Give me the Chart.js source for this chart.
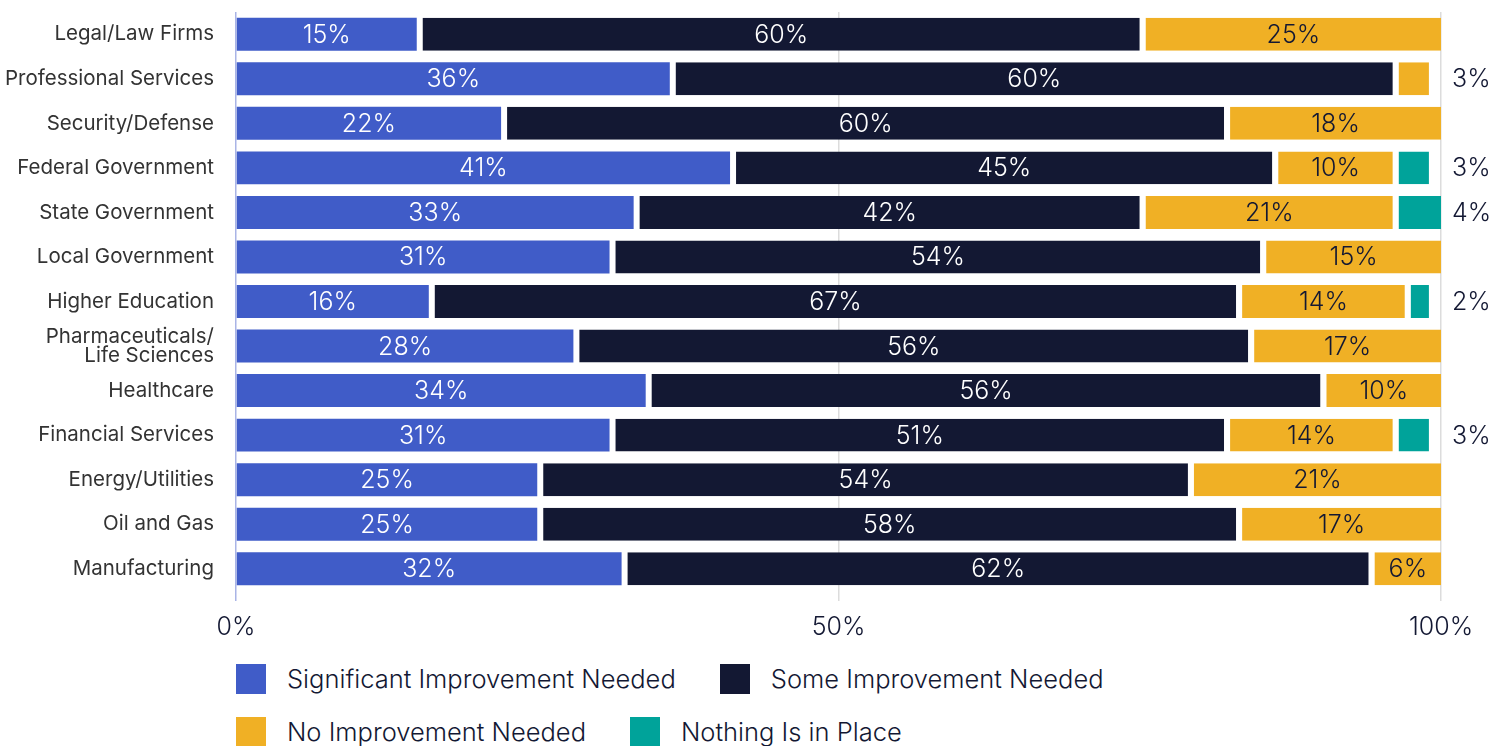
<!DOCTYPE html>
<html>
<head>
<meta charset="utf-8">
<script src="https://cdn.jsdelivr.net/npm/chart.js@4.4.1/dist/chart.umd.min.js"></script>
<style>
    html, body { margin: 0; padding: 0; background: #fff; }
    body { width: 1508px; height: 746px; position: relative; overflow: hidden; font-family: Inter, "Noto Sans", sans-serif; }
    #wrap { position: absolute; left: 0; top: 0; width: 1508px; height: 650px; }
    #legend { position: absolute; left: 236px; top: 663px; width: 1020px; display: flex; flex-wrap: wrap; column-gap: 44px; row-gap: 22px; }
    .item { display: flex; align-items: center; font-size: 25.5px; font-weight: 300; color: #131833; height: 31px; }
    .swatch { width: 30px; height: 30px; margin-right: 21px; }
</style>
</head>
<body>
<div id="wrap"><canvas id="chart"></canvas></div>
<div id="legend"></div>
<script>
const categories = [
    'Legal/Law Firms', 'Professional Services', 'Security/Defense', 'Federal Government',
    'State Government', 'Local Government', 'Higher Education', ['Pharmaceuticals/', 'Life Sciences'],
    'Healthcare', 'Financial Services', 'Energy/Utilities', 'Oil and Gas', 'Manufacturing'
];
const seriesNames = ['Significant Improvement Needed', 'Some Improvement Needed', 'No Improvement Needed', 'Nothing Is in Place'];
const significant = [15, 36, 22, 41, 33, 31, 16, 28, 34, 31, 25, 25, 32];
const some        = [60, 60, 60, 45, 42, 54, 67, 56, 56, 51, 54, 58, 62];
const noNeed      = [25, 3, 18, 10, 21, 15, 14, 17, 10, 14, 21, 17, 6];
const nothing     = [null, null, null, 3, 4, null, 2, null, null, 3, null, null, null];
const xTicks = [0, 50, 100];

const colors = ['#405cc8', '#131833', '#f0b025', '#00a39a'];
const labelColors = ['#ffffff', '#ffffff', '#131833', '#131833'];
const navy = '#131833';
const fontFamily = 'Inter, "Noto Sans", sans-serif';

const datasets = [significant, some, noNeed, nothing].map((data, i) => ({
    label: seriesNames[i],
    data: data,
    backgroundColor: colors[i],
    borderColor: '#ffffff',
    borderWidth: i === 0 ? 0 : { left: 6, right: 0, top: 0, bottom: 0 },
    borderSkipped: false,
    barPercentage: 0.74,
    categoryPercentage: 1
}));

// value labels: inside the segment, or just right of the plot for small ones
const valueLabels = {
    id: 'valueLabels',
    afterDatasetsDraw(chart) {
        const ctx = chart.ctx;
        const area = chart.chartArea;
        ctx.save();
        ctx.font = '300 25px ' + fontFamily;
        ctx.textBaseline = 'middle';
        chart.data.datasets.forEach((ds, di) => {
            const meta = chart.getDatasetMeta(di);
            meta.data.forEach((bar, i) => {
                const v = ds.data[i];
                if (v === null || v === undefined) return;
                const text = v + '%';
                if (v < 5) {
                    ctx.fillStyle = navy;
                    ctx.textAlign = 'left';
                    ctx.fillText(text, area.right + 11, bar.y + 1);
                } else {
                    const left = bar.base + (di === 0 ? 0 : 6);
                    const right = Math.min(bar.x, area.right);
                    ctx.fillStyle = labelColors[di];
                    ctx.textAlign = 'center';
                    ctx.fillText(text, (left + right) / 2, bar.y + 1);
                }
            });
        });
        ctx.restore();
    }
};

new Chart(document.getElementById('chart'), {
    type: 'bar',
    data: { labels: categories, datasets: datasets },
    options: {
        indexAxis: 'y',
        responsive: true,
        maintainAspectRatio: false,
        animation: false,
        layout: { padding: { top: 12, right: 67, left: 0, bottom: 0 } },
        plugins: {
            legend: { display: false },
            tooltip: { enabled: false }
        },
        scales: {
            x: {
                stacked: true,
                min: 0,
                max: 100,
                afterBuildTicks: (scale) => { scale.ticks = xTicks.map(v => ({ value: v })); },
                afterFit: (scale) => { scale.height = 59; },
                border: { display: false },
                grid: {
                    color: (c) => c.tick && c.tick.value === 0 ? '#a9b4e6' : '#dcdcdc',
                    lineWidth: 1.5,
                    drawTicks: true,
                    tickLength: 10
                },
                ticks: {
                    padding: 11,
                    color: navy,
                    font: { family: fontFamily, size: 25, weight: '300' },
                    callback: (v) => v + '%'
                }
            },
            y: {
                stacked: true,
                afterFit: (scale) => {
                    scale.width = 236;
                    scale.paddingTop = 0;
                    scale.paddingBottom = 0;
                },
                border: { display: false },
                grid: { display: false, drawTicks: false },
                ticks: {
                    padding: 22,
                    color: '#333333',
                    font: { family: fontFamily, size: 20.5, weight: '400', lineHeight: 0.92 }
                }
            }
        }
    },
    plugins: [valueLabels]
});

// legend built from the same series names and colours
const legend = document.getElementById('legend');
seriesNames.forEach((name, i) => {
    const item = document.createElement('div');
    item.className = 'item';
    item.innerHTML = '<span class="swatch" style="background:' + colors[i] + '"></span>' + name;
    legend.appendChild(item);
});
</script>
</body>
</html>
